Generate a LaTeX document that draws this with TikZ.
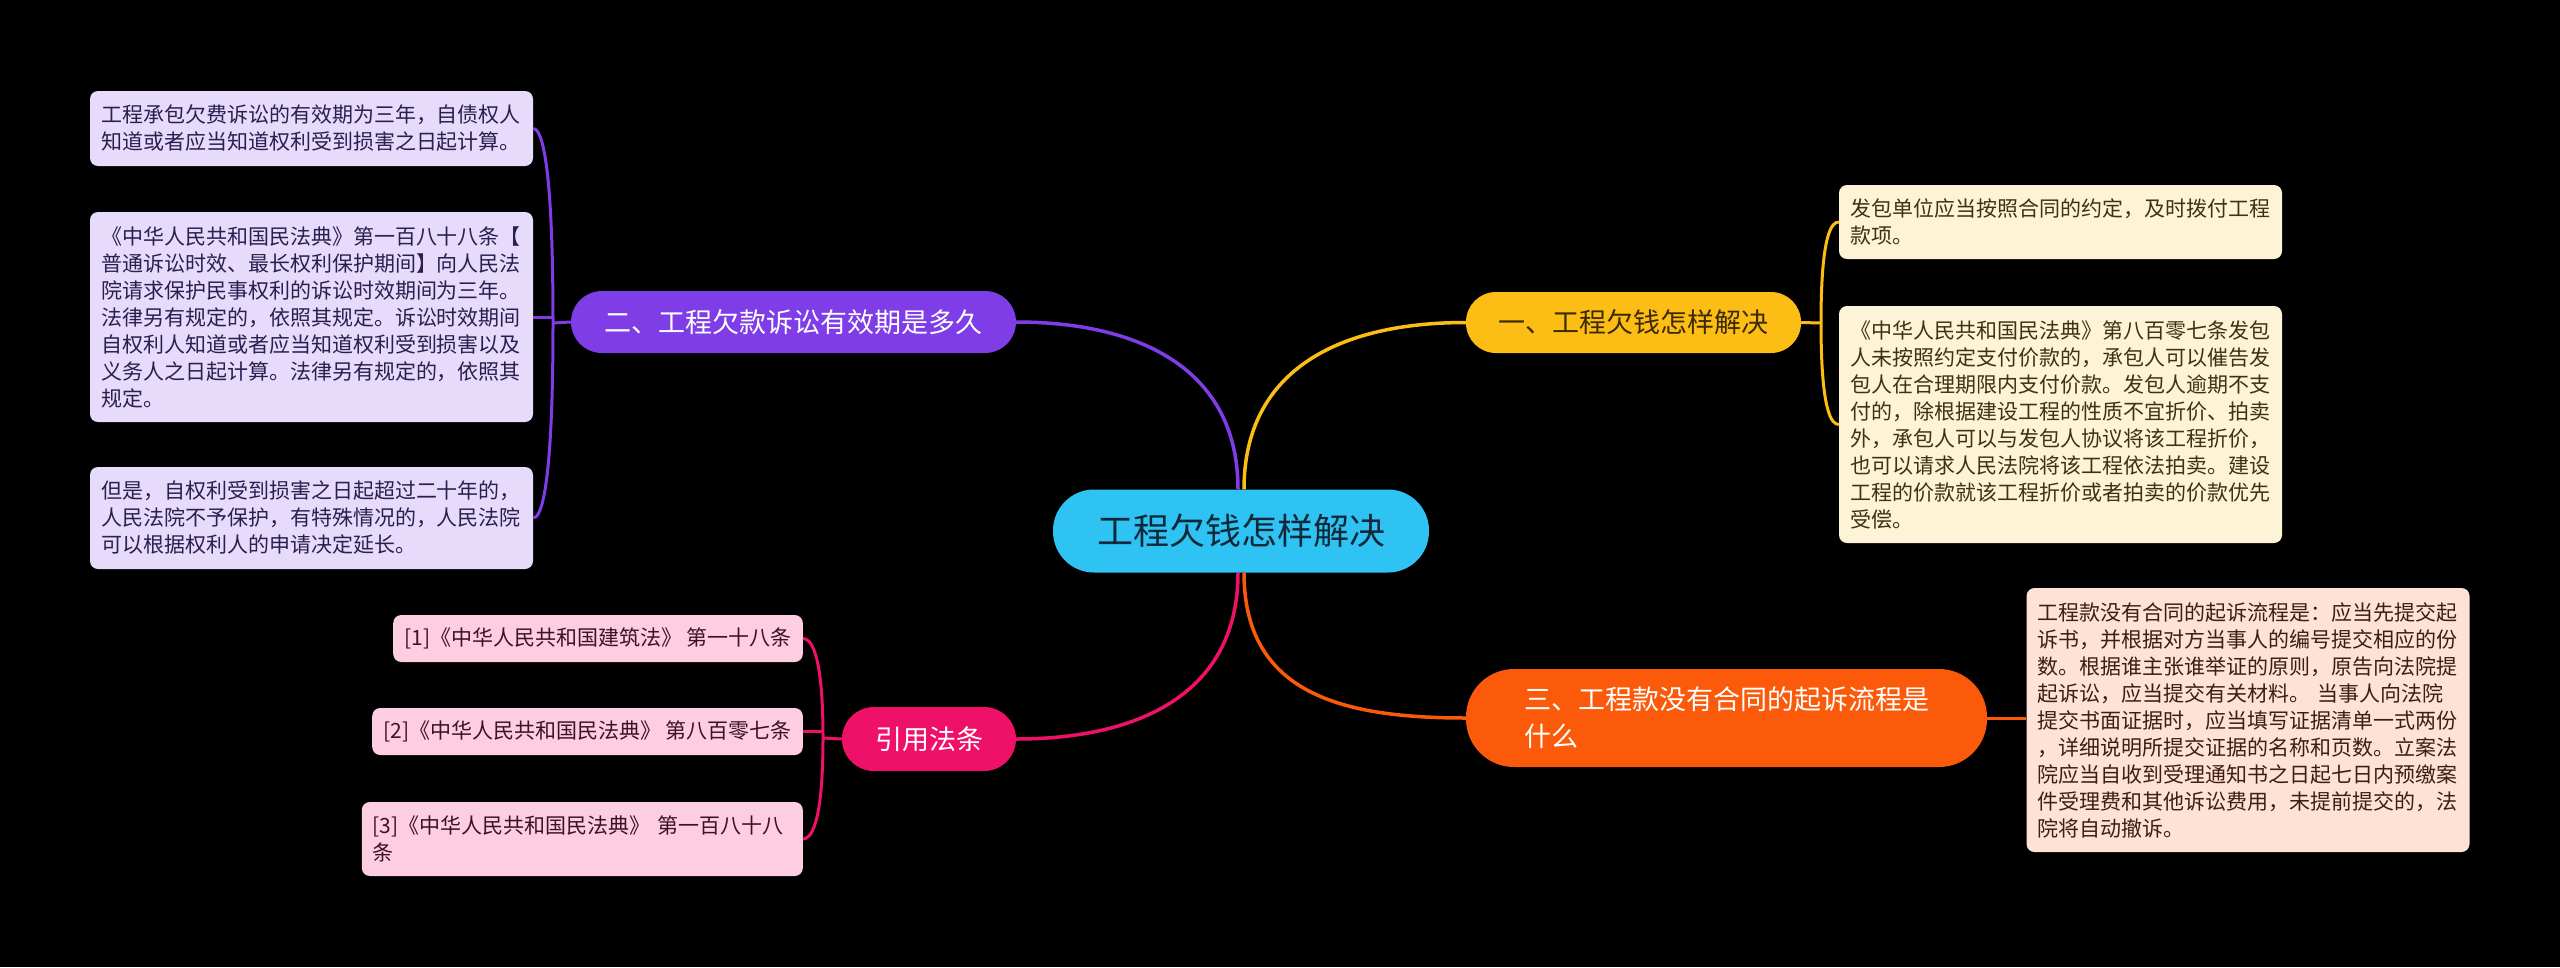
\documentclass[tikz,border=0pt]{standalone}
\usepackage{fontspec}
\setmainfont{Noto Sans CJK SC}
\definecolor{ccyan}{HTML}{2EC3F2}
\definecolor{ctext}{HTML}{10293A}
\definecolor{cyellow}{HTML}{FCBD14}
\definecolor{ytext}{HTML}{3B2A05}
\definecolor{cpurple}{HTML}{7E3DE6}
\definecolor{corange}{HTML}{FB5A0B}
\definecolor{cpink}{HTML}{EF1068}
\definecolor{lpurple}{HTML}{E6DBFA}
\definecolor{lptext}{HTML}{2A1F4F}
\definecolor{lyellow}{HTML}{FDF3D7}
\definecolor{lytext}{HTML}{3F3210}
\definecolor{lorange}{HTML}{FEE2D5}
\definecolor{lotext}{HTML}{3D1E10}
\definecolor{lpink}{HTML}{FDCDE1}
\definecolor{lpktext}{HTML}{3D1226}
\tikzset{
  central/.style={fill=ccyan, text=ctext, inner sep=0pt, minimum width=376pt, minimum height=83pt, rounded corners=41pt, font=\fontsize{36}{40}\selectfont},
  branch/.style={inner sep=0pt, align=left, font=\fontsize{27}{37}\selectfont},
  leafbox/.style={rectangle, rounded corners=8pt, inner xsep=11pt, inner ysep=0pt, align=left, text width=421pt, font=\fontsize{21}{27}\selectfont},
  pinkleaf/.style={rectangle, rounded corners=8pt, inner xsep=11pt, inner ysep=0pt, fill=lpink, text=lpktext, font=\fontsize{21}{27}\selectfont, anchor=east},
  mainconn/.style={line width=3.5pt},
  conn/.style={line width=3pt}
}
\begin{document}
\begin{tikzpicture}[x=1pt,y=-1pt]
\fill[black] (0,0) rectangle (2560,967);
\useasboundingbox (0,0) rectangle (2560,967);

% central
\node[central] (c) at (1241,531) {工程欠钱怎样解决};

% branches
\node[branch, fill=cyellow, text=ytext, minimum width=335pt, minimum height=61pt, rounded corners=30pt] (b1) at (1633.5,322.5) {一、工程欠钱怎样解决};
\node[branch, fill=cpurple, text=white, minimum width=445pt, minimum height=62pt, rounded corners=31pt] (b2) at (793.5,322) {二、工程欠款诉讼有效期是多久};
\node[branch, fill=corange, text=white, minimum width=521pt, minimum height=98pt, rounded corners=48pt, text width=405pt] (b3) at (1726.5,718) {三、工程款没有合同的起诉流程是\\什么};
\node[branch, fill=cpink, text=white, minimum width=174pt, minimum height=64pt, rounded corners=32pt] (b4) at (929,739) {引用法条};

% purple leaves
\node[leafbox, fill=lpurple, text=lptext, minimum height=75pt] (l1) at (311.5,128.5) {工程承包欠费诉讼的有效期为三年，自债权人\\知道或者应当知道权利受到损害之日起计算。};
\node[leafbox, fill=lpurple, text=lptext, minimum height=210pt] (l2) at (311.5,317) {《中华人民共和国民法典》第一百八十八条【\\普通诉讼时效、最长权利保护期间】向人民法\\院请求保护民事权利的诉讼时效期间为三年。\\法律另有规定的，依照其规定。诉讼时效期间\\自权利人知道或者应当知道权利受到损害以及\\义务人之日起计算。法律另有规定的，依照其\\规定。};
\node[leafbox, fill=lpurple, text=lptext, minimum height=102pt] (l3) at (311.5,518) {但是，自权利受到损害之日起超过二十年的，\\人民法院不予保护，有特殊情况的，人民法院\\可以根据权利人的申请决定延长。};

% yellow leaves
\node[leafbox, fill=lyellow, text=lytext, minimum height=74pt] (y1) at (2060.5,222) {发包单位应当按照合同的约定，及时拨付工程\\款项。};
\node[leafbox, fill=lyellow, text=lytext, minimum height=237pt] (y2) at (2060.5,424.5) {《中华人民共和国民法典》第八百零七条发包\\人未按照约定支付价款的，承包人可以催告发\\包人在合理期限内支付价款。发包人逾期不支\\付的，除根据建设工程的性质不宜折价、拍卖\\外，承包人可以与发包人协议将该工程折价，\\也可以请求人民法院将该工程依法拍卖。建设\\工程的价款就该工程折价或者拍卖的价款优先\\受偿。};

% orange leaf
\node[leafbox, fill=lorange, text=lotext, minimum height=264pt] (o1) at (2248,720) {工程款没有合同的起诉流程是：应当先提交起\\诉书，并根据对方当事人的编号提交相应的份\\数。根据谁主张谁举证的原则，原告向法院提\\起诉讼，应当提交有关材料。 当事人向法院\\提交书面证据时，应当填写证据清单一式两份\\，详细说明所提交证据的名称和页数。立案法\\院应当自收到受理通知书之日起七日内预缴案\\件受理费和其他诉讼费用，未提前提交的，法\\院将自动撤诉。};

% pink leaves
\node[pinkleaf, minimum height=47pt] (p1) at (803,638.5) {[1]《中华人民共和国建筑法》 第一十八条};
\node[pinkleaf, minimum height=47pt] (p2) at (803,731.5) {[2]《中华人民共和国民法典》 第八百零七条};
\node[pinkleaf, minimum height=74pt, text width=419pt, align=left] (p3) at (803,839) {[3]《中华人民共和国民法典》 第一百八十八\\条};

% junctions
\coordinate (j2) at (553,323);
\coordinate (jy) at (1821,323);
\coordinate (jp) at (823,738);

% main connectors
\draw[mainconn, cpurple] ([xshift=-3pt]c.north) .. controls +(0,-120) and +(124,0) .. (b2.east);
\draw[mainconn, cyellow] ([xshift=3pt]c.north) .. controls +(0,-120) and +(-126,0) .. (b1.west);
\draw[mainconn, cpink] ([xshift=-3pt]c.south) .. controls +(0,120) and +(124,0) .. (b4.east);
\draw[mainconn, corange] ([xshift=3pt]c.south) .. controls +(0,120) and +(-126,0) .. (b3.west);

% purple bracket
\draw[conn, cpurple] (b2.west) -- (j2);
\draw[conn, cpurple] (l1.east) .. controls +(7,0) and +(0,-173) .. (j2) .. controls +(0,173) and +(7,0) .. (l3.east);
\draw[conn, cpurple] (l2.east) -- (l2.east -| j2);

% yellow bracket
\draw[conn, cyellow] (b1.east) -- (jy);
\draw[conn, cyellow] (y1.west) .. controls +(-7,0) and +(0,-90) .. (jy) .. controls +(0,90) and +(-7,0) .. (y2.west);

% orange
\draw[conn, corange] (b3.east) -- (b3.east -| o1.west);

% pink bracket
\draw[conn, cpink] (b4.west) -- (jp);
\draw[conn, cpink] (p1.east) .. controls +(7,0) and +(0,-89) .. (jp) .. controls +(0,90) and +(7,0) .. (p3.east);
\draw[conn, cpink] (p2.east) -- (p2.east -| jp);
\end{tikzpicture}
\end{document}
